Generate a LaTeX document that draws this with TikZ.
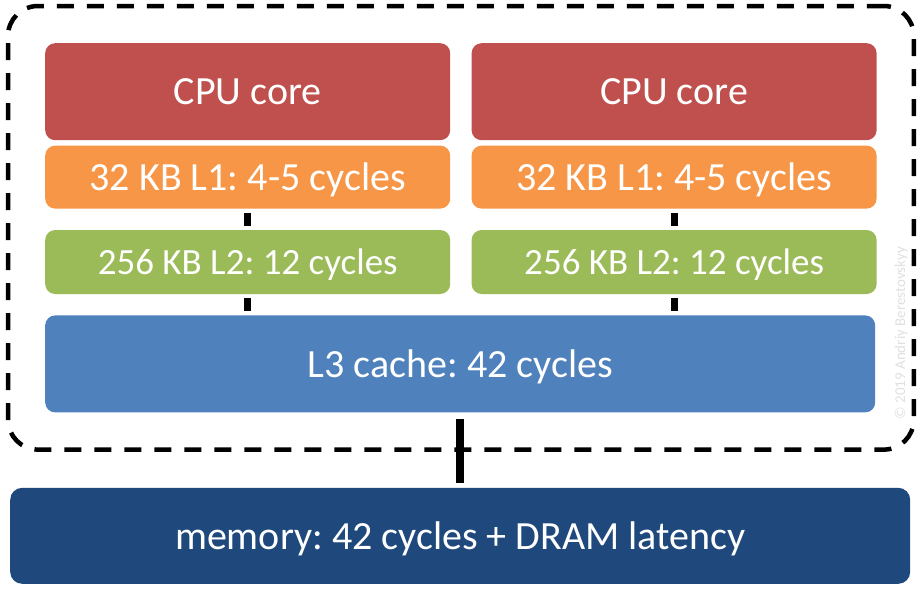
\documentclass[tikz,border=0pt]{standalone}
\usepackage{fontspec}
\setmainfont{Carlito}
\usepackage{xcolor}
\usetikzlibrary{positioning, fit}
\frenchspacing

\definecolor{corered}{HTML}{C0504D}
\definecolor{loneorange}{HTML}{F79646}
\definecolor{ltwogreen}{HTML}{9BBB59}
\definecolor{lthreeblue}{HTML}{4F81BD}
\definecolor{memblue}{HTML}{1F497D}

\begin{document}
\begin{tikzpicture}[
    x=1pt, y=-1pt,
    node distance=21pt and 21pt,
    corebox/.style={rectangle, rounded corners=10pt, minimum height=97pt, text depth=0pt,
      minimum width=405pt, align=center, fill=corered, text=white, font=\fontsize{40}{42}\selectfont},
    lonebox/.style={rectangle, rounded corners=10pt, minimum height=63pt, text depth=0pt,
      minimum width=405pt, align=center, fill=loneorange, text=white, font=\fontsize{40}{42}\selectfont},
    ltwobox/.style={rectangle, rounded corners=10pt, minimum height=64pt, text depth=0pt,
      minimum width=405pt, align=center, fill=ltwogreen, text=white, font=\fontsize{37}{40}\selectfont},
    lthreebox/.style={rectangle, rounded corners=10pt, minimum height=97pt, text depth=0pt,
      minimum width=830pt, align=center, fill=lthreeblue, text=white, font=\fontsize{40}{42}\selectfont},
    membox/.style={rectangle, rounded corners=12pt, minimum height=96pt, text depth=0pt,
      minimum width=900pt, align=center, fill=memblue, text=white, font=\fontsize{40}{42}\selectfont},
    link/.style={line width=7pt, shorten <=4pt, shorten >=4pt}
]
\useasboundingbox (0,0) rectangle (920,592);

\node (cpuA) [corebox, anchor=north west] at (45,43) {CPU core};
\node (l1A) [lonebox, below=5pt of cpuA] {32 KB L1: 4-5 cycles};
\node (l2A) [ltwobox, below=of l1A] {256 KB L2: 12 cycles};
\node (cpuB) [corebox, right=of cpuA] {CPU core};
\node (l1B) [lonebox, below=5pt of cpuB] {32 KB L1: 4-5 cycles};
\node (l2B) [ltwobox, below=of l1B] {256 KB L2: 12 cycles};
\node (l3) [lthreebox, below right=21pt and 0pt of l2A.south west] {L3 cache: 42 cycles};
\node (mem) [membox, below=75pt of l3] {memory: 42 cycles + DRAM latency};

% chip boundary
\node (chip) [fit=(cpuA)(cpuB)(l3), inner sep=37pt, draw, line width=4.5pt,
  rounded corners=30pt, dash pattern=on 17pt off 13pt] {};

\draw[link] (l1A) -- (l2A);
\draw[link] (l2A) -- (l3.north -| l2A.south);
\draw[link] (l1B) -- (l2B);
\draw[link] (l2B) -- (l3.north -| l2B.south);
\draw[link, line width=8pt, shorten <=6pt, shorten >=5pt] (l3) -- (mem);

\node (mark) [rotate=90, text=black!12, font=\fontsize{15}{16}\selectfont] at (901,333) {© 2019 Andriy Berestovskyy};
\end{tikzpicture}
\end{document}
